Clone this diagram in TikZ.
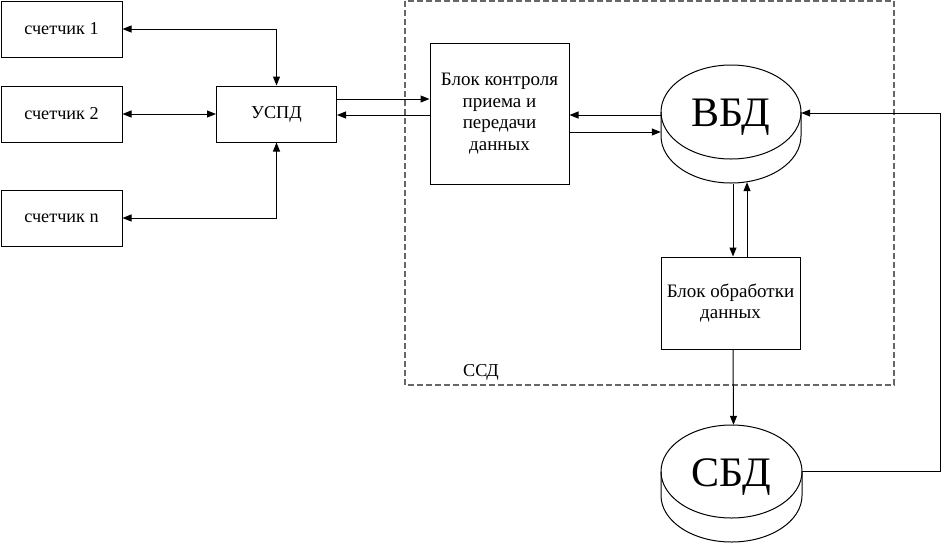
\documentclass[tikz,border=0pt]{standalone}
\usepackage{fontspec}
\setmainfont{Liberation Serif}
\usetikzlibrary{arrows.meta,calc}
\newcommand\mydisk[5]{%
  \filldraw[fill=white,line width=1pt] (#1-#3,#2) -- (#1-#3,#2+#5) arc[start angle=180,end angle=0,x radius=#3,y radius=#4] -- (#1+#3,#2);
  \draw[line width=1pt] (#1,#2) ellipse [x radius=#3, y radius=#4];
}
\begin{document}
\begin{tikzpicture}[x=1pt,y=-1pt,
  every node/.style={font=\fontsize{18.2}{21.5}\selectfont},
  blk/.style={draw,line width=1pt,inner sep=0pt,align=center},
  bigblk/.style={blk,font=\fontsize{19}{21.5}\selectfont},
  conn/.style={line width=1pt},
  tip/.style={-{Triangle[length=9pt,width=7pt]}},
  tips/.style={{Triangle[length=9pt,width=7pt]}-{Triangle[length=9pt,width=7pt]}},
  bigtxt/.style={font=\fontsize{42}{44}\selectfont,anchor=base}]
\useasboundingbox (0,0) rectangle (942,550);
\fill[white] (0,0) rectangle (942,550);
% dashed frame
\draw[gray!80!black,line width=1.1pt,dash pattern=on 6pt off 3pt] (405,1) rectangle (894,385);
\node (ssd) at (481,372) {ССД};
% boxes
\node[blk,minimum width=121pt,minimum height=56pt] (c1) at (61.5,29) {счетчик 1};
\node[blk,minimum width=121pt,minimum height=56pt] (c2) at (61.5,114) {счетчик 2};
\node[blk,minimum width=121pt,minimum height=56pt] (cn) at (61.5,218) {счетчик n};
\node[blk,minimum width=120pt,minimum height=56pt] (uspd) at (276.5,114) {УСПД};
\node[bigblk,minimum width=139pt,minimum height=141pt] (ctrl) at (499.5,113.5) {Блок контроля\\приема и\\передачи\\данных};
\node[bigblk,minimum width=139pt,minimum height=92pt] (proc) at (730.5,303) {Блок обработки\\данных};
% disks
\node[minimum width=140pt,minimum height=119pt,inner sep=0pt] (vbd) at (731,124.5) {};
\mydisk{731}{112}{70}{47}{24}
\node[bigtxt] (vbdt) at (731,126) {ВБД};
\node[minimum width=141pt,minimum height=117pt,inner sep=0pt] (sbd) at (731.5,483.5) {};
\mydisk{731.5}{471.5}{70.5}{46.5}{24}
\node[bigtxt] (sbdt) at (731.5,486) {СБД};
% connectors
\draw[conn,tips] (c1.east) -| (uspd.north);
\draw[conn,tips] (c2.east) -- (uspd.west);
\draw[conn,tips] (cn.east) -| (uspd.south);
\draw[conn,tip] ($(uspd.east)+(0,-15)$) -- ($(ctrl.west)+(0,-14.5)$);
\draw[conn,tip] ($(ctrl.west)+(0,1.5)$) -- ($(uspd.east)+(0,1)$);
\draw[conn,tip] ($(vbd.west)+(0,-9.5)$) -- ($(ctrl.east)+(0,1.5)$);
\draw[conn,tip] ($(ctrl.east)+(0,18.5)$) -- ($(vbd.west)+(0,7.5)$);
\draw[conn,tip] ($(vbd.south)+(2,0)$) -- ($(proc.north)+(2.5,0)$);
\draw[conn,tip] ($(proc.north)+(16.5,0)$) -- ($(vbd.south)+(16,-2)$);
\draw[conn,tip] ($(proc.south)+(2.5,0)$) -- ($(sbd.north)+(2,0)$);
\coordinate (rt) at (940,471);
\draw[conn,tip] (sbd.east |- rt) -- (rt) |- ($(vbd.east)+(0,-11.5)$);
\end{tikzpicture}
\end{document}
